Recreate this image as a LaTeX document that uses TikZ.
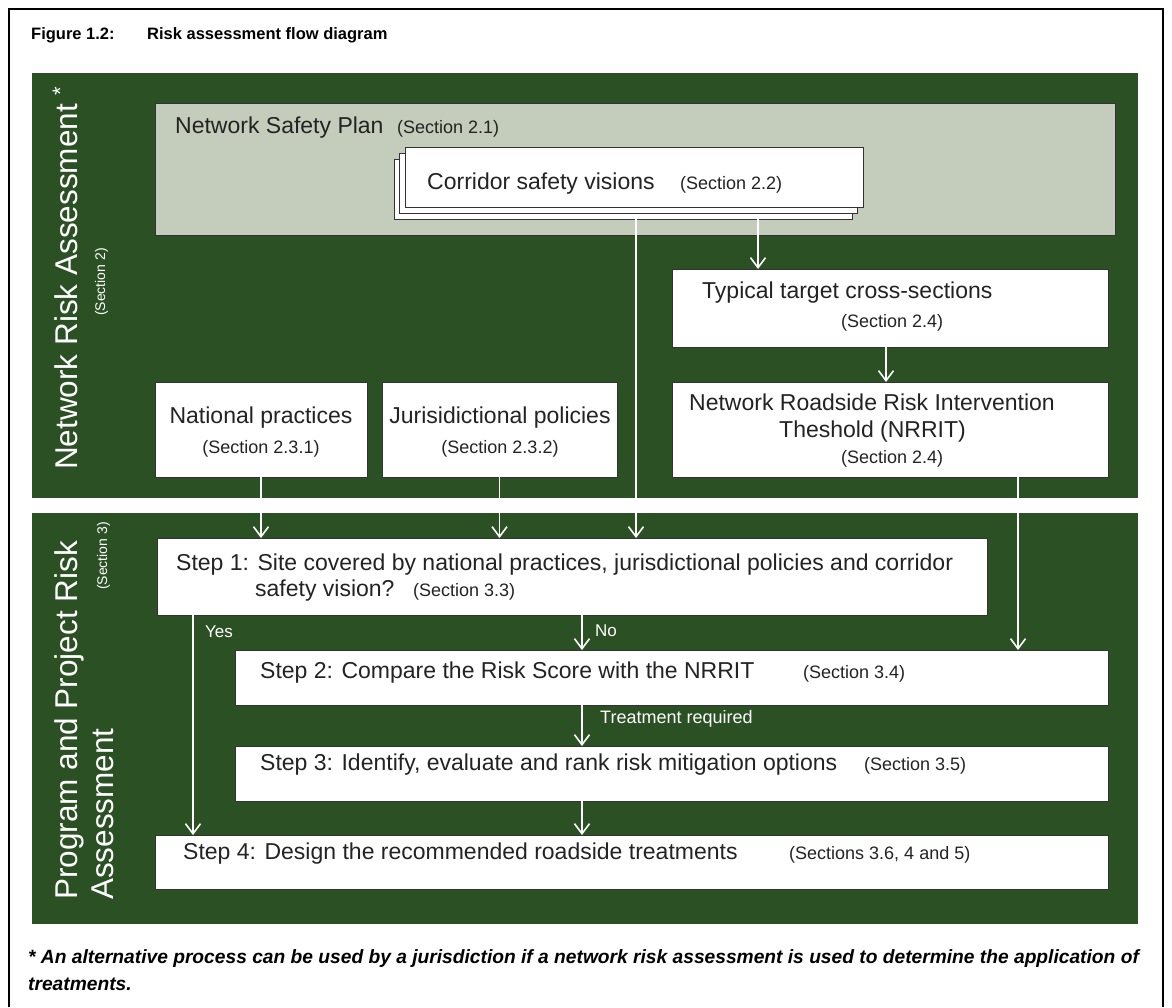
\documentclass[tikz,border=0pt]{standalone}
\usepackage{fontspec}
\setmainfont{Liberation Sans}
\usetikzlibrary{arrows.meta,shadows}

\definecolor{panelgreen}{RGB}{42,80,36}
\definecolor{plangrey}{RGB}{196,205,187}
\definecolor{inktext}{RGB}{35,35,35}

\newcommand{\boxfont}{\fontsize{23}{27}\selectfont}
\newcommand{\secfont}{\fontsize{18}{21}\selectfont}
\newcommand{\lblfont}{\fontsize{17}{20}\selectfont}
\newcommand{\sidefont}{\fontsize{31.5}{36}\selectfont}
\newcommand{\sect}[1]{{\secfont #1}}
\newcommand{\padto}[2]{\makebox[#1pt][l]{#2}}

\tikzset{%
	panel/.style    = {fill=panelgreen, draw=none},
	planbox/.style  = {draw=black!80, fill=plangrey, line width=1pt, rectangle, anchor=north west, inner sep=0pt, outer sep=0pt,
	                   drop shadow={shadow xshift=1.2pt, shadow yshift=-1.2pt, fill=black, opacity=0.8}},
	stepbox/.style  = {planbox, fill=white},
	txt/.style      = {anchor=base west, inner sep=0pt, text=inktext, font=\boxfont},
	sectxt/.style   = {txt, font=\secfont},
	flow/.style     = {draw=white, line width=1.6pt, -{Straight Barb[length=10pt,width=15pt]}},
	lbl/.style      = {anchor=base west, inner sep=0pt, text=white, font=\lblfont},
	sidettl/.style  = {rotate=90, anchor=base west, inner sep=0pt, text=white, font=\sidefont},
}

\begin{document}
\begin{tikzpicture}[x=1pt, y=-1pt]
	\useasboundingbox (0,0) rectangle (1172,1007);
	\draw[line width=2.5pt] (9,1007) |- (1163,9) -- (1163,1007);  % frame
	
	\node[anchor=base west, inner sep=0pt, font=\fontsize{16.5}{19}\selectfont\bfseries] (fig) at (31,39) {\padto{116}{Figure 1.2:}Risk assessment flow diagram};
	
	% two green panels
	\fill[panel] (32,73) rectangle (1138,498);
	\fill[panel] (32,513) rectangle (1138,924);
	
	\node[sidettl] (nra) at (77,470) {Network Risk Assessment \textsuperscript{*}};
	\node[sidettl, anchor=base, font=\fontsize{14}{16}\selectfont] (nra-s) at (105,282) {(Section 2)};
	\node[sidettl] (ppa) at (77,900) {Program and Project Risk};
	\node[sidettl] (ppb) at (113,900) {Assessment};
	\node[sidettl, anchor=base, font=\fontsize{14}{16}\selectfont] (ppa-s) at (107,556) {(Section 3)};
	
	% network level
	\node[planbox, minimum width=960pt, minimum height=132pt] (plan) at (155,103) {};
	\node[txt] (plan-t) at (175,133) {\padto{222}{Network Safety Plan}\sect{(Section 2.1)}};
	\node[stepbox, minimum width=458pt, minimum height=60pt] (corr-c) at (394,159) {};
	\node[stepbox, minimum width=458pt, minimum height=60pt] (corr-b) at (399,153) {};
	\node[stepbox, minimum width=458pt, minimum height=60pt] (corr) at (405,147) {};
	\node[txt] (corr-t) at (427,189) {\padto{253}{Corridor safety visions}\sect{(Section 2.2)}};
	
	\node[stepbox, minimum width=436pt, minimum height=78pt] (typ) at (672,269) {};
	\node[txt] (typ-a) at (702,298) {Typical target cross-sections};
	\node[sectxt] (typ-b) at (841,327) {(Section 2.4)};
	
	\node[stepbox, minimum width=436pt, minimum height=95pt] (nrrit) at (672,382) {};
	\node[txt] (nrrit-a) at (689,410) {Network Roadside Risk Intervention};
	\node[txt] (nrrit-b) at (779,437) {Theshold (NRRIT)};
	\node[sectxt] (nrrit-c) at (841,463) {(Section 2.4)};
	
	\node[stepbox, minimum width=212pt, minimum height=95pt] (nat) at (155,382) {};
	\node[txt, anchor=base] (nat-a) at (261,423) {National practices};
	\node[sectxt, anchor=base] (nat-b) at (261,453) {(Section 2.3.1)};
	
	\node[stepbox, minimum width=235pt, minimum height=95pt] (jur) at (382,382) {};
	\node[txt, anchor=base] (jur-a) at (500,423) {Jurisidictional policies};
	\node[sectxt, anchor=base] (jur-b) at (500,453) {(Section 2.3.2)};
	
	% project level
	\node[stepbox, minimum width=830pt, minimum height=77pt] (step1) at (157,538) {};
	\node[txt] (step1-a) at (176,570) {Step 1: Site covered by national practices, jurisdictional policies and corridor};
	\node[txt] (step1-b) at (255,596) {\padto{158}{safety vision?}\sect{(Section 3.3)}};
	
	\node[stepbox, minimum width=873pt, minimum height=55pt] (step2) at (235,650) {};
	\node[txt] (step2-t) at (260,678) {\padto{543}{Step 2: Compare the Risk Score with the NRRIT}\sect{(Section 3.4)}};
	
	\node[stepbox, minimum width=873pt, minimum height=55pt] (step3) at (235,746) {};
	\node[txt] (step3-t) at (260,770) {\padto{604}{Step 3: Identify, evaluate and rank risk mitigation options}\sect{(Section 3.5)}};
	
	\node[stepbox, minimum width=953pt, minimum height=54pt] (step4) at (155,835) {};
	\node[txt] (step4-t) at (183,859) {\padto{606}{Step 4: Design the recommended roadside treatments}\sect{(Sections 3.6, 4 and 5)}};
	
	% connectors
	\draw[flow] ([xshift=242pt]corr-c.south west) coordinate (cs) -- (cs |- step1.north);
	\draw[flow] ([xshift=364pt]corr-c.south west) coordinate (ct) -- (ct |- typ.north);
	\draw[flow] ([xshift=214pt]typ.south west) coordinate (tn) -- (tn |- nrrit.north);
	\draw[flow] (nat.south) -- (nat.south |- step1.north);
	\draw[flow] (jur.south) -- (jur.south |- step1.north);
	\draw[flow] ([xshift=346pt]nrrit.south west) coordinate (ns) -- (ns |- step2.north);
	\draw[flow] ([xshift=36pt]step1.south west) coordinate (yes) -- (yes |- step4.north);
	\draw[flow] ([xshift=425pt]step1.south west) coordinate (no) -- (no |- step2.north);
	\draw[flow] (no |- step2.south) -- (no |- step3.north);
	\draw[flow] (no |- step3.south) -- (no |- step4.north);
	
	\node[lbl] (yes-l) at (205,637) {Yes};
	\node[lbl] (no-l) at (595,636) {No};
	\node[lbl, font=\secfont] (treat-l) at (600,723) {Treatment required};
	
	\node[anchor=north west, inner sep=0pt, align=left, font=\fontsize{19.2}{27}\selectfont\bfseries\itshape] (foot) at (28,949)
		{* An alternative process can be used by a jurisdiction if a network risk assessment is used to determine the application of\\treatments.};
\end{tikzpicture}
\end{document}
